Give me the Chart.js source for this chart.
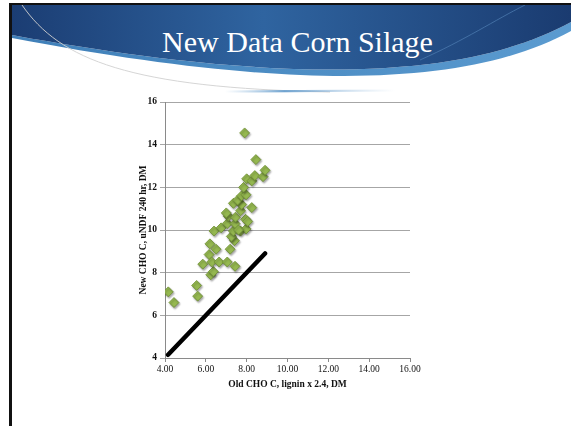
<!DOCTYPE html>
<html>
<head>
<meta charset="utf-8">
<script src="https://cdn.jsdelivr.net/npm/chart.js@4/dist/chart.umd.min.js"></script>
<style>
  html, body { margin: 0; padding: 0; background: #fff; }
  #slide { position: relative; width: 571px; height: 426px; overflow: hidden; background: #fff; }
  #decor { position: absolute; left: 0; top: 0; }
  #title {
    position: absolute; left: 12px; right: 0; top: 25px; text-align: center;
    font-family: "Liberation Serif", "DejaVu Serif", serif; font-size: 30px; color: #fff;
    padding-left: 12px;
  }
  #chart { position: absolute; left: 130px; top: 90px; }
</style>
</head>
<body>
<div id="slide">
  <svg id="decor" width="571" height="426" viewBox="0 0 571 426">
    <defs>
      <linearGradient id="band" x1="0" y1="0" x2="1" y2="0">
        <stop offset="0" stop-color="#1b3d73"/>
        <stop offset="0.45" stop-color="#2f64a0"/>
        <stop offset="1" stop-color="#1a3b70"/>
      </linearGradient>
      <linearGradient id="edge" x1="0" y1="0" x2="1" y2="0">
        <stop offset="0" stop-color="#3f7fb8"/>
        <stop offset="1" stop-color="#5b9bd0"/>
      </linearGradient>
      <linearGradient id="glint" x1="0" y1="0" x2="1" y2="0">
        <stop offset="0" stop-color="#8fb8dc" stop-opacity="0"/>
        <stop offset="0.35" stop-color="#6fa3d0"/>
        <stop offset="1" stop-color="#a9c8e4" stop-opacity="0"/>
      </linearGradient>
    </defs>
    <!-- light edge under the header band -->
    <path d="M12,35 C 300,88 470,77 571,22 L571,31 C 470,86 300,93 12,38 Z" fill="url(#edge)"/>
    <!-- header band -->
    <path d="M12,5 L571,5 L571,22 C 470,77 300,88 12,35 Z" fill="url(#band)"/>
    <!-- thin swoosh lines -->
    <path d="M22,5 C 60,60 130,88 330,92" fill="none" stroke="#d0d0d0" stroke-width="0.9"/>
    <path d="M420,60 C 465,40 495,20 525,5" fill="none" stroke="#4a78ad" stroke-width="0.8"/>
    <path d="M225,91.5 L395,90.5" stroke="url(#glint)" stroke-width="2.2"/>
    <!-- frame -->
    <rect x="9" y="3" width="562" height="2" fill="#111"/>
    <rect x="9" y="3" width="3" height="423" fill="#111"/>
  </svg>
  <div id="title">New Data Corn Silage</div>
  <canvas id="chart" width="300" height="305"></canvas>
</div>
<script>
// Old CHO C (lignin x 2.4) vs new CHO C (uNDF 240 hr), % of DM
const oldChoC = [
  4.16, 4.44, 5.55, 5.60, 5.85, 6.16, 6.20, 6.24, 6.37, 6.29,
  6.50, 6.65, 7.05, 7.43, 7.19, 6.40, 6.75, 7.40, 7.25, 7.35,
  7.70, 7.97, 7.05, 7.43, 7.10, 7.45, 7.95, 7.00, 7.70, 8.25,
  7.35, 7.75, 7.55, 7.75, 7.97, 7.85, 8.00, 8.25, 8.40, 8.80,
  8.90, 8.45, 7.90, 7.60, 8.05
];
const newChoC = [
  7.10, 6.60, 7.40, 6.90, 8.40, 8.85, 9.35, 7.90, 8.05, 8.50,
  9.10, 8.50, 8.50, 8.30, 9.10, 9.95, 10.10, 9.50, 9.70, 9.95,
  9.95, 10.05, 10.30, 10.30, 10.65, 10.60, 10.50, 10.80, 10.90, 11.05,
  11.25, 11.20, 11.40, 11.60, 11.65, 12.00, 12.40, 12.30, 12.55, 12.50,
  12.80, 13.30, 14.55, 10.00, 10.40
];
// 1:1 reference line
const lineX = [4.15, 8.90];
const lineY = [4.15, 8.90];
const yTicks = [4, 6, 8, 10, 12, 14, 16];
const xTicks = [4, 6, 8, 10, 12, 14, 16];

const serif = '"Liberation Serif", "DejaVu Serif", serif';

const shadowPlugin = {
  id: 'markerShadow',
  beforeDatasetDraw(chart, args) {
    if (args.index !== 1) return;
    const ctx = chart.ctx;
    ctx.save();
    ctx.shadowColor = 'rgba(0,0,0,0.35)';
    ctx.shadowOffsetX = 1;
    ctx.shadowOffsetY = 1.5;
    ctx.shadowBlur = 2;
  },
  afterDatasetDraw(chart, args) {
    if (args.index !== 1) return;
    chart.ctx.restore();
  }
};

new Chart(document.getElementById('chart'), {
  type: 'scatter',
  data: {
    datasets: [
      {
        data: lineX.map((x, i) => ({ x, y: lineY[i] })),
        showLine: true,
        borderColor: '#000',
        borderWidth: 4.5,
        pointRadius: 0,
        borderCapStyle: 'round'
      },
      {
        data: oldChoC.map((x, i) => ({ x, y: newChoC[i] })),
        pointStyle: 'rectRot',
        pointRadius: 5,
        backgroundColor: '#95b850',
        borderColor: '#6f8f35',
        borderWidth: 0.8
      }
    ]
  },
  options: {
    responsive: false,
    animation: false,
    devicePixelRatio: 1,
    layout: { padding: { left: 0, top: 12, right: 20, bottom: 5 } },
    plugins: { legend: { display: false }, tooltip: { enabled: false } },
    scales: {
      x: {
        type: 'linear', min: 4, max: 16,
        afterBuildTicks: s => { s.ticks = xTicks.map(v => ({ value: v })); },
        afterFit: s => { s.height = 32; },
        grid: { drawOnChartArea: false, drawTicks: true, tickLength: 4, color: '#8a8a8a' },
        border: { color: '#8a8a8a', width: 1 },
        ticks: {
          padding: 2, color: '#111',
          font: { family: serif, size: 9.5 },
          callback: v => Number(v).toFixed(2)
        },
        title: {
          display: true, text: 'Old CHO C, lignin x 2.4, DM', color: '#111',
          font: { family: serif, size: 9.5, weight: 'bold' }, padding: { top: 2, bottom: 0 }
        }
      },
      y: {
        type: 'linear', min: 4, max: 16,
        afterBuildTicks: s => { s.ticks = yTicks.map(v => ({ value: v })); },
        afterFit: s => { s.width = 35; },
        grid: { color: '#a6a6a6', tickLength: 5, drawTicks: true },
        border: { color: '#8a8a8a', width: 1 },
        ticks: { padding: 3, color: '#111', font: { family: serif, size: 9.5, weight: 'bold' } },
        title: {
          display: true, text: 'New CHO C, uNDF 240 hr, DM', color: '#111',
          font: { family: serif, size: 9.5, weight: 'bold' }, padding: { top: 8, bottom: 0 }
        }
      }
    }
  },
  plugins: [shadowPlugin]
});
</script>
</body>
</html>
